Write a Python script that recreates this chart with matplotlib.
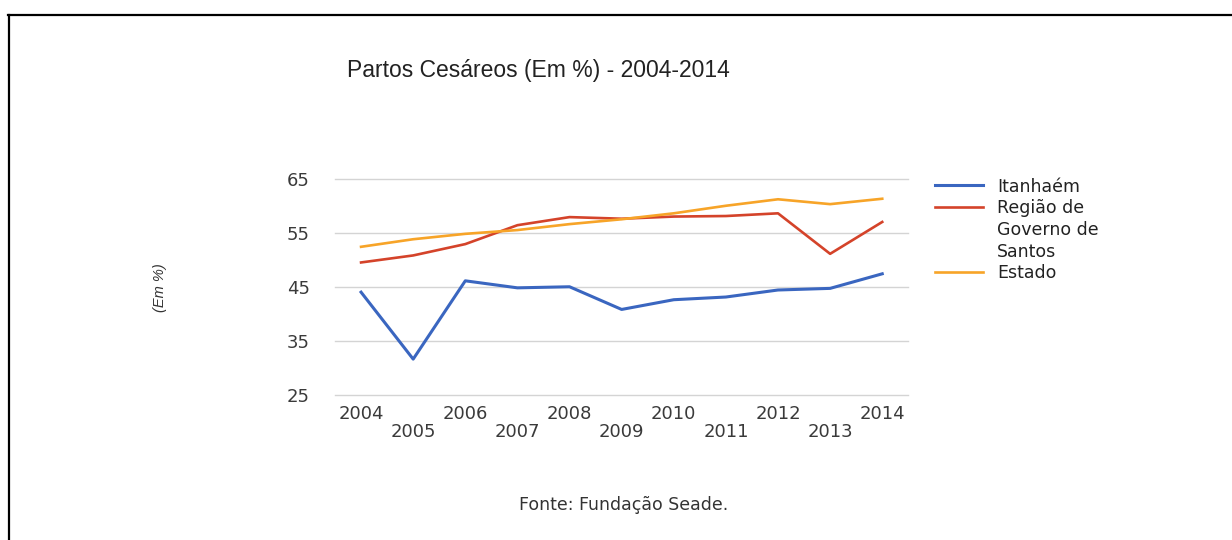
import matplotlib
matplotlib.use("Agg")
import matplotlib.pyplot as plt
from matplotlib.lines import Line2D

# Data
years = ["2004", "2005", "2006", "2007", "2008", "2009", "2010", "2011", "2012", "2013", "2014"]
itanhaem = [44.1, 31.7, 46.2, 44.9, 45.1, 40.9, 42.7, 43.2, 44.5, 44.8, 47.5]
regiao = [49.6, 50.9, 53.0, 56.5, 58.0, 57.7, 58.1, 58.2, 58.7, 51.2, 57.1]
estado = [52.5, 53.9, 54.9, 55.6, 56.7, 57.6, 58.7, 60.1, 61.3, 60.4, 61.4]
series_names = ["Itanhaém", "Região de", "Estado"]
region_extra_lines = ["Governo de", "Santos"]
yticks = [25, 35, 45, 55, 65]

title = "Partos Cesáreos (Em %) - 2004-2014"
ylabel = "(Em %)"
source = "Fonte: Fundação Seade."

colors = ["#3a66c0", "#d4432a", "#f7a428"]
small_font = "DejaVu Sans"
text_col = "#3a3a3a"

W, H = 1232, 540
fig = plt.figure(figsize=(W / 100, H / 100), dpi=100)
fig.patch.set_facecolor("white")

ax = fig.add_axes([335 / W, 1 - 395.3 / H, 573.3 / W, 216 / H])
x = list(range(len(years)))

l1, = ax.plot(x, itanhaem, color=colors[0], lw=2.2, zorder=3)
l2, = ax.plot(x, regiao, color=colors[1], lw=1.9, zorder=3)
l3, = ax.plot(x, estado, color=colors[2], lw=1.9, zorder=3)

ax.set_xlim(-0.5, len(years) - 0.5)
ax.set_ylim(25, 65)
ax.set_yticks(yticks)
ax.set_yticklabels([str(v) for v in yticks], fontfamily=small_font, fontsize=13, color=text_col)
ax.set_xticks(x)
ax.set_xticklabels([y if i % 2 == 0 else "\n" + y for i, y in enumerate(years)],
                   fontfamily=small_font, fontsize=13, color=text_col)
for lab in ax.get_xticklabels():
    lab.set_linespacing(0.98)

ax.tick_params(axis="both", length=0)
ax.tick_params(axis="x", pad=7)
ax.tick_params(axis="y", pad=18)
for s in ax.spines.values():
    s.set_visible(False)
ax.grid(axis="y", color="#d4d4d4", lw=1.0, zorder=0)
for gl in ax.get_ygridlines():
    gl.set_clip_on(False)
ax.set_axisbelow(True)

ax.set_ylabel(ylabel, fontfamily="Liberation Sans", fontstyle="italic", fontsize=10.5, color="#333333")
ax.yaxis.set_label_coords(-0.293, 0.5)

# Legend: the regional label wraps over three rows next to its line
blank = Line2D([], [], color="none")
fig.legend([l1, l2, blank, blank, l3],
           [series_names[0], series_names[1], region_extra_lines[0], region_extra_lines[1], series_names[2]],
           loc="upper left", bbox_to_anchor=(935 / W, 1 - 177.5 / H), frameon=False,
           borderpad=0, borderaxespad=0, handlelength=2.76, handletextpad=0.8,
           labelspacing=0.215, prop={"family": small_font, "size": 12.5}, labelcolor="#222222")

fig.text(538 / W, 1 - 70 / H, title, ha="center", va="center",
         fontfamily="Liberation Sans", fontsize=16.5, color="#222222")
fig.text(624 / W, 1 - 505 / H, source, ha="center", va="center",
         fontfamily=small_font, fontsize=12.5, color="#333333")

# Frame lines along the top and left edges
fig.add_artist(Line2D([8 / W, 1.0], [1 - 15 / H, 1 - 15 / H], color="black", lw=1.6,
                      transform=fig.transFigure))
fig.add_artist(Line2D([9 / W, 9 / W], [0.0, 1 - 15 / H], color="black", lw=1.6,
                      transform=fig.transFigure))

fig.savefig("out.png", dpi=100, facecolor="white")
